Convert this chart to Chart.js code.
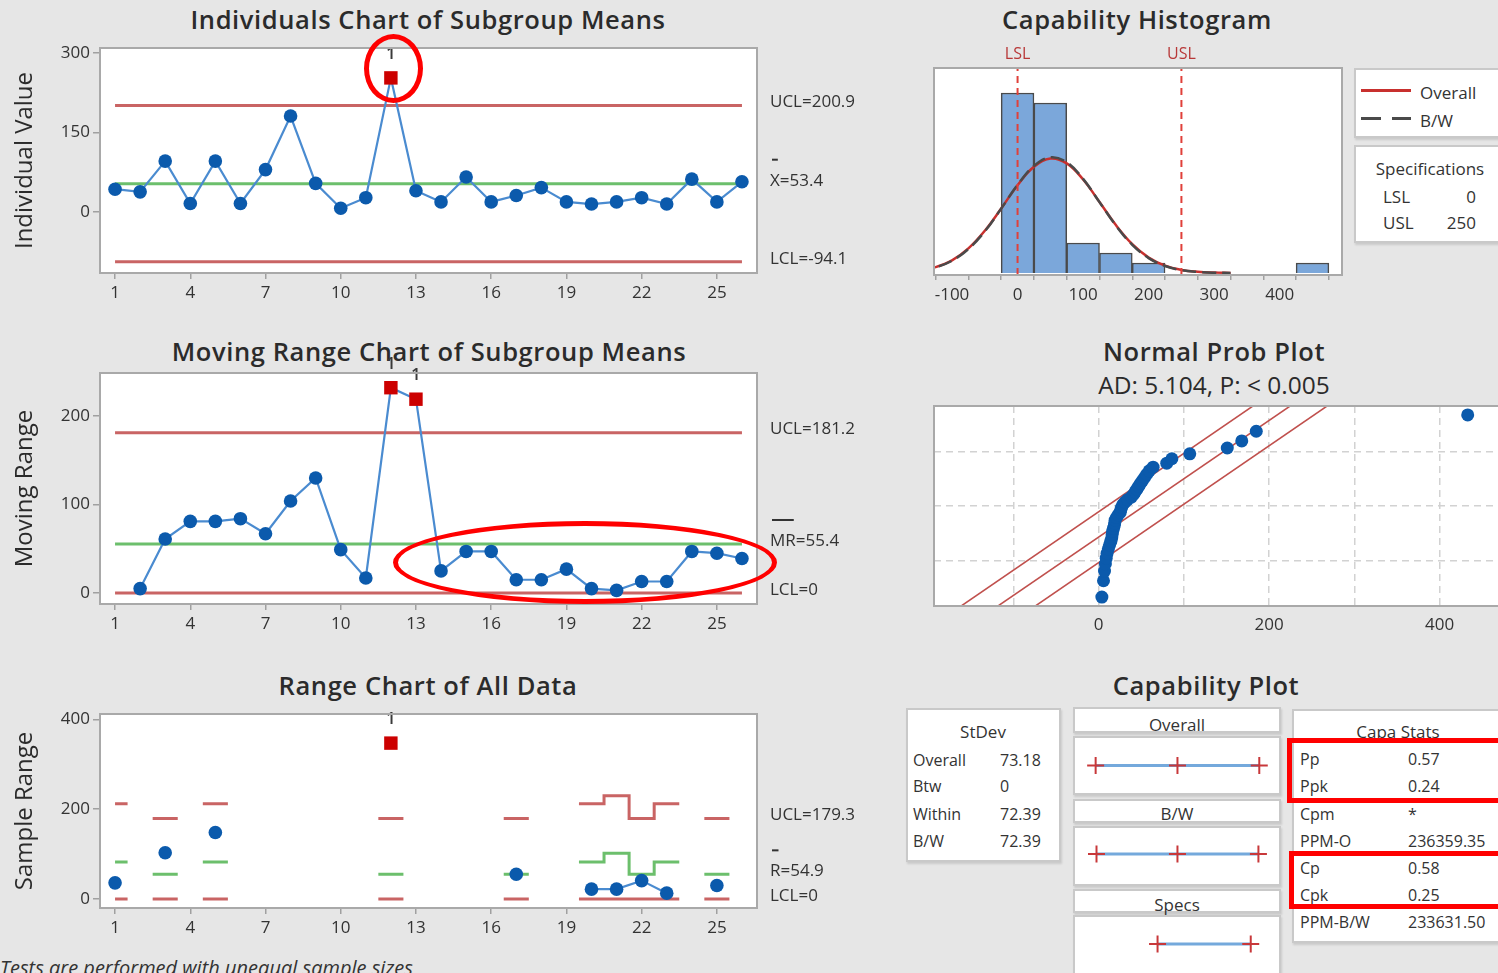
<!DOCTYPE html>
<html>
<head>
<meta charset="utf-8">
<title>Capability Sixpack</title>
<script src="https://cdn.jsdelivr.net/npm/chart.js@4.4.1/dist/chart.umd.min.js"></script>
<style>
  html, body { margin:0; padding:0; }
  body { width:1498px; height:973px; overflow:hidden; position:relative; background:#e6e6e6; font-family:"Open Sans", sans-serif; color:#2e2e2e; }
  canvas { position:absolute; }
  .t { position:absolute; font-size:16px; white-space:nowrap; line-height:1; transform:translateY(-50%); color:#333; }
  .tc { transform:translate(-50%,-50%); }
  .tr { transform:translate(-100%,-50%); }
  .box { position:absolute; background:#fff; border:2px solid #c9c9c9; box-sizing:border-box; box-shadow:1px 2px 2px rgba(0,0,0,0.12); }
  .ann { position:absolute; border:5px solid #ff0000; box-sizing:border-box; z-index:20; }
  .foot { position:absolute; left:0; top:958px; font-size:20px; font-style:italic; white-space:nowrap; color:#333; line-height:20px; }
</style>
</head>
<body>
<script>
// ================= DATA =================
const subgroups = [1,2,3,4,5,6,7,8,9,10,11,12,13,14,15,16,17,18,19,20,21,22,23,24,25,26];
const xTickValues = [1,4,7,10,13,16,19,22,25];

// Individuals chart of subgroup means
const individualValues = [43,38,96,16,96,16,80,181,54,7,27,253,40,19,66,19,31,46,19,15,19,27,15,62,19,57];
const individualFlags = [12];
const iUCL = 200.9, iCL = 53.4, iLCL = -94.1;
const iYTicks = [0,150,300];

// Moving range chart
const movingRanges = [null,5,61,81,81,84,67,104,130,49,17,232,219,25,47,47,15,15,27,5,3,13,13,47,45,39];
const mrFlags = [12,13];
const mrUCL = 181.2, mrCL = 55.4, mrLCL = 0;
const mrYTicks = [0,100,200];

// Range chart of all data (only subgroups with more than one observation)
const sampleRanges = [36,null,103,null,148,null,null,null,null,null,null,347,null,null,null,null,55,null,null,22,22,41,13,null,30,null];
const rangeFlags = [12];
const rangeUCL = [212,null,179.3,null,212,null,null,null,null,null,null,179.3,null,null,null,null,179.3,null,null,212,230,179.3,212,null,179.3,null];
const rangeCL  = [82.5,null,54.9,null,82.5,null,null,null,null,null,null,54.9,null,null,null,null,54.9,null,null,82.5,102,54.9,82.5,null,54.9,null];
const rangeLCL = [0,null,0,null,0,null,null,null,null,null,null,0,null,null,null,null,0,null,null,0,0,0,0,null,0,null];
const rUCLLabel = 179.3, rCLLabel = 54.9, rLCLLabel = 0;
const rYTicks = [0,200,400];

// Capability histogram
const binCenters = [0,50,100,150,200,250,300,350,400,450];
const binCounts  = [18,17,3,2,1,0,0,0,0,1];
const curveX = [-150,-125,-100,-75,-50,-25,0,25,50,75,100,125,150,175,200,225,250,275,300,325];
const overallCurve = [0.24,0.59,1.27,2.46,4.22,6.45,8.78,10.62,11.44,10.96,9.35,7.10,4.79,2.88,1.54,0.73,0.31,0.12,0.04,0.01];
const bwCurve      = [0.22,0.56,1.23,2.40,4.16,6.44,8.81,10.71,11.56,11.07,9.41,7.09,4.75,2.82,1.49,0.70,0.29,0.11,0.03,0.01];
const LSL = 0, USL = 250;
const histXTicks = [-100,-50,0,50,100,150,200,250,300,350,400,450];

// Normal probability plot
const sortedObs = [3.9,5.8,7,8,9,10,11.5,13,14.5,15.5,16,16.5,17.5,18.5,19,19.5,21,23,25.5,26,27,28.5,31,34,38.5,41,43,45,47,49,51.5,54,56.5,59.5,64,80,86,107,151,168,185,433];
const plotPositionZ = [-2.132,-1.750,-1.524,-1.358,-1.222,-1.106,-1.002,-0.909,-0.823,-0.743,-0.667,-0.595,-0.525,-0.459,-0.394,-0.331,-0.269,-0.208,-0.148,-0.089,-0.030,
                        0.030,0.089,0.148,0.208,0.269,0.331,0.394,0.459,0.525,0.595,0.667,0.743,0.823,0.909,1.002,1.106,1.222,1.358,1.524,1.750,2.132];
const bandZ = [-2.6, 2.6];
const fitLineX = [-136.9, 243.7];
const bandLeftX = [-180, 200];
const bandRightX = [-93, 287];
const probXGrid = [-100,0,100,200,300,400];
const probXLabels = [0,200,400];
const probYGrid = [-1.2816, 0, 1.2816];

// Capability plot
const overallInterval = [-166.1, 53.4, 272.9];
const bwInterval = [-163.8, 53.4, 270.6];
const specInterval = [0, 250];
const stdevRows = [['Overall','73.18'],['Btw','0'],['Within','72.39'],['B/W','72.39']];
const capaRows = [['Pp','0.57'],['Ppk','0.24'],['Cpm','*'],['PPM-O','236359.35'],['Cp','0.58'],['Cpk','0.25'],['PPM-B/W','233631.50']];

// ================= STYLE =================
const BLUE_PT = '#0b5aac', BLUE_LINE = '#4a8bd0', RED_PT = '#cc0000';
const RED_LIM = '#c96464', GREEN_CL = '#6cbf6c', TXT = '#333';
Chart.defaults.font.family = '"Open Sans", sans-serif';
Chart.defaults.color = TXT;

// ================= HELPERS =================
function makeCanvas(l, t, w, h) {
  const c = document.createElement('canvas');
  c.width = w; c.height = h;
  Object.assign(c.style, {left: l + 'px', top: t + 'px', width: w + 'px', height: h + 'px'});
  document.body.appendChild(c);
  return c;
}
function txt(s, x, y, o = {}) {
  const d = document.createElement('div');
  d.textContent = s;
  d.className = 't' + (o.align === 'center' ? ' tc' : o.align === 'right' ? ' tr' : '');
  d.style.left = x + 'px'; d.style.top = y + 'px';
  if (o.size) d.style.fontSize = o.size + 'px';
  if (o.weight) d.style.fontWeight = o.weight;
  if (o.color) d.style.color = o.color;
  if (o.spacing) d.style.letterSpacing = o.spacing + 'px';
  document.body.appendChild(d);
  return d;
}
function title(s, x, y, weight) {
  return txt(s, x, y, {align: 'center', size: 25.5, weight: weight || 600, color: '#2b2b2b', spacing: 0.6});
}
function box(l, t, w, h, cls = 'box') {
  const d = document.createElement('div');
  d.className = cls;
  Object.assign(d.style, {left: l + 'px', top: t + 'px', width: w + 'px', height: h + 'px'});
  document.body.appendChild(d);
  return d;
}
function ticksFrom(arr) { return s => { s.ticks = arr.map(v => ({value: v})); }; }

const framePlugin = {
  id: 'frame',
  beforeDraw(chart) {
    const {ctx, chartArea: a} = chart;
    ctx.save(); ctx.fillStyle = '#fff';
    ctx.fillRect(a.left, a.top, a.right - a.left, a.bottom - a.top); ctx.restore();
  },
  afterDraw(chart) {
    const {ctx, chartArea: a} = chart;
    ctx.save(); ctx.strokeStyle = '#a9a9a9'; ctx.lineWidth = 2;
    ctx.strokeRect(a.left, a.top, a.right - a.left, a.bottom - a.top); ctx.restore();
  }
};
const sideLabelPlugin = {
  id: 'sideLabels',
  afterDraw(chart, args, opts) {
    const items = opts.items || [];
    const ys = chart.scales.y, a = chart.chartArea, ctx = chart.ctx;
    ctx.save(); ctx.font = '17px "Open Sans"'; ctx.fillStyle = TXT;
    ctx.textBaseline = 'middle'; ctx.textAlign = 'left';
    items.forEach(it => {
      const y = ys.getPixelForValue(it.value) - 3;
      const x = a.right + 13;
      ctx.fillText(it.text, x, y);
      if (it.bar) {
        const w = ctx.measureText(it.text.slice(0, it.bar)).width;
        ctx.fillRect(x + 2, y - 22, w - 4, 2);
      }
    });
    ctx.restore();
  }
};
const flagPlugin = {
  id: 'flags',
  afterDatasetsDraw(chart, args, opts) {
    const meta = chart.getDatasetMeta(0), ctx = chart.ctx;
    ctx.save(); ctx.font = '600 17px "Open Sans"'; ctx.fillStyle = '#3a3a3a';
    ctx.textAlign = 'center'; ctx.textBaseline = 'middle';
    (opts.subgroups || []).forEach(sg => {
      const el = meta.data[subgroups.indexOf(sg)];
      if (el) ctx.fillText('1', el.x, el.y - 24);
    });
    ctx.restore();
  }
};
const specLabelPlugin = {
  id: 'specLabels',
  afterDraw(chart) {
    const xs = chart.scales.x, a = chart.chartArea, ctx = chart.ctx;
    ctx.save(); ctx.font = '16px "Open Sans"'; ctx.fillStyle = '#b83838';
    ctx.textAlign = 'center'; ctx.textBaseline = 'middle';
    ctx.fillText('LSL', xs.getPixelForValue(LSL), a.top - 14);
    ctx.fillText('USL', xs.getPixelForValue(USL), a.top - 14);
    ctx.restore();
  }
};

function stepData(vals) {
  const pts = [];
  vals.forEach((v, i) => {
    if (v == null) return;
    const x = subgroups[i];
    const prevHas = i > 0 && vals[i - 1] != null;
    pts.push({x: prevHas ? x - 0.5 : Math.max(x - 0.5, subgroups[0]), y: v});
    pts.push({x: x + 0.5, y: v});
    if (i === vals.length - 1 || vals[i + 1] == null) pts.push({x: x + 0.5, y: null});
  });
  return pts;
}
function flatLine(v) { return [{x: subgroups[0], y: v}, {x: subgroups[subgroups.length - 1], y: v}]; }

function controlChart(o) {
  const c = makeCanvas(0, o.canvasTop, 900, o.canvasH);
  const datasets = [{
    data: subgroups.map((x, i) => ({x, y: o.values[i]})),
    borderColor: BLUE_LINE, borderWidth: 2.2, tension: 0, spanGaps: false,
    pointStyle: subgroups.map(x => o.flags.includes(x) ? 'rect' : 'circle'),
    pointRadius: subgroups.map(x => o.flags.includes(x) ? 9.5 : 6.8),
    pointBackgroundColor: subgroups.map(x => o.flags.includes(x) ? RED_PT : BLUE_PT),
    pointBorderWidth: 0, order: 0
  }];
  o.limits.forEach(l => datasets.push({data: l.data, borderColor: l.color, borderWidth: 3, pointRadius: 0, tension: 0, spanGaps: false, order: 5}));
  new Chart(c, {
    type: 'line',
    data: {datasets},
    options: {
      responsive: false, animation: false, devicePixelRatio: 1,
      layout: {padding: {left: 0, right: 143, top: o.frameTop - o.canvasTop, bottom: 0}},
      plugins: {legend: {display: false}, tooltip: {enabled: false}, sideLabels: {items: o.labels}, flags: {subgroups: o.flags}},
      scales: {
        x: {type: 'linear', min: 0.4, max: 26.6,
            afterBuildTicks: ticksFrom(xTickValues),
            afterFit: s => { s.height = o.canvasTop + o.canvasH - o.frameBottom; },
            grid: {drawOnChartArea: false, drawTicks: true, tickLength: 6, color: '#a0a0a0', lineWidth: 1.5},
            border: {display: false},
            ticks: {font: {size: 17}, color: TXT, padding: 4, maxRotation: 0, autoSkip: false}},
        y: {type: 'linear', min: o.yMin, max: o.yMax,
            afterBuildTicks: ticksFrom(o.yTicks),
            afterFit: s => { s.width = 100; },
            title: {display: true, text: o.yTitle, font: {size: 24, weight: '500'}, color: '#2b2b2b', padding: {top: 11, bottom: 0}},
            grid: {drawOnChartArea: false, drawTicks: true, tickLength: 7, color: '#a0a0a0', lineWidth: 1.5},
            border: {display: false},
            ticks: {font: {size: 17}, color: TXT, padding: 3, autoSkip: false}}
      }
    },
    plugins: [framePlugin, sideLabelPlugin, flagPlugin]
  });
}

// ================= TITLES =================
title('Individuals Chart of Subgroup Means', 428, 20);
title('Moving Range Chart of Subgroup Means', 429, 352);
title('Range Chart of All Data', 428, 686);
title('Capability Histogram', 1137, 20);
title('Normal Prob Plot', 1214, 352);
txt('AD: 5.104, P: < 0.005', 1214, 385, {align: 'center', size: 24.5, weight: 500, color: '#2b2b2b'});
title('Capability Plot', 1206, 686);

// ================= CONTROL CHARTS =================
controlChart({
  canvasTop: 30, canvasH: 290, frameTop: 48, frameBottom: 273,
  yMin: -115.1, yMax: 309.4, yTicks: iYTicks, yTitle: 'Individual Value',
  values: individualValues, flags: individualFlags,
  limits: [{data: flatLine(iUCL), color: RED_LIM}, {data: flatLine(iCL), color: GREEN_CL}, {data: flatLine(iLCL), color: RED_LIM}],
  labels: [{text: 'UCL=' + iUCL, value: iUCL}, {text: 'X=' + iCL, value: iCL, bar: 1}, {text: 'LCL=' + iLCL, value: iLCL}]
});
controlChart({
  canvasTop: 355, canvasH: 295, frameTop: 373, frameBottom: 604,
  yMin: -12.4, yMax: 248.6, yTicks: mrYTicks, yTitle: 'Moving Range',
  values: movingRanges, flags: mrFlags,
  limits: [{data: flatLine(mrUCL), color: RED_LIM}, {data: flatLine(mrCL), color: GREEN_CL}, {data: flatLine(mrLCL), color: RED_LIM}],
  labels: [{text: 'UCL=' + mrUCL, value: mrUCL}, {text: 'MR=' + mrCL, value: mrCL, bar: 2}, {text: 'LCL=' + mrLCL, value: mrLCL}]
});
controlChart({
  canvasTop: 700, canvasH: 252, frameTop: 714, frameBottom: 908,
  yMin: -20, yMax: 411.8, yTicks: rYTicks, yTitle: 'Sample Range',
  values: sampleRanges, flags: rangeFlags,
  limits: [{data: stepData(rangeUCL), color: RED_LIM}, {data: stepData(rangeCL), color: GREEN_CL}, {data: stepData(rangeLCL), color: RED_LIM}],
  labels: [{text: 'UCL=' + rUCLLabel, value: rUCLLabel}, {text: 'R=' + rCLLabel, value: rCLLabel, bar: 1}, {text: 'LCL=' + rLCLLabel, value: rLCLLabel}]
});

// ================= HISTOGRAM =================
(function () {
  const c = makeCanvas(900, 30, 450, 290);
  new Chart(c, {
    type: 'bar',
    data: {datasets: [
      {type: 'line', data: [{x: LSL, y: -0.2}, {x: LSL, y: 20.5}], borderColor: '#e0403a', borderWidth: 2, borderDash: [7, 5], pointRadius: 0, order: 1},
      {type: 'line', data: [{x: USL, y: -0.2}, {x: USL, y: 20.5}], borderColor: '#e0403a', borderWidth: 2, borderDash: [7, 5], pointRadius: 0, order: 1},
      {type: 'line', data: curveX.map((x, i) => ({x, y: bwCurve[i]})), borderColor: '#4a4a4a', borderWidth: 2.5, borderDash: [14, 6], pointRadius: 0, tension: 0.4, order: 2},
      {type: 'line', data: curveX.map((x, i) => ({x, y: overallCurve[i]})), borderColor: '#c8302e', borderWidth: 2.5, pointRadius: 0, tension: 0.4, order: 3},
      {type: 'bar', data: binCenters.map((x, i) => ({x, y: binCounts[i]})), backgroundColor: '#7ba7da', borderColor: '#4a4a4a', borderWidth: 1.5, barPercentage: 1, categoryPercentage: 1, order: 5}
    ]},
    options: {
      responsive: false, animation: false, devicePixelRatio: 1,
      layout: {padding: {left: 34, right: 8, top: 38, bottom: 0}},
      plugins: {legend: {display: false}, tooltip: {enabled: false}},
      scales: {
        x: {type: 'linear', min: -127.5, max: 495, offset: false,
            afterBuildTicks: ticksFrom(histXTicks),
            afterFit: s => { s.height = 45; },
            grid: {drawOnChartArea: false, drawTicks: true, tickLength: 5, color: '#a0a0a0', lineWidth: 1.5},
            border: {display: false},
            ticks: {font: {size: 17}, color: TXT, padding: 5, maxRotation: 0, autoSkip: false,
                    callback: v => (v % 100 === 0 ? String(v) : '')}},
        y: {type: 'linear', min: -0.2, max: 20.5, display: false}
      }
    },
    plugins: [framePlugin, specLabelPlugin]
  });
})();

// legend & specifications boxes
box(1354, 68, 160, 70);
const redSample = box(1361, 89, 50, 3, ''); redSample.style.position = 'absolute'; redSample.style.background = '#c8302e';
const d1 = box(1361, 117, 20, 3, ''); d1.style.position = 'absolute'; d1.style.background = '#4a4a4a';
const d2 = box(1392, 117, 19, 3, ''); d2.style.position = 'absolute'; d2.style.background = '#4a4a4a';
txt('Overall', 1420, 92, {size: 17});
txt('B/W', 1420, 120, {size: 17});
box(1354, 145, 160, 98);
txt('Specifications', 1430, 168, {align: 'center', size: 17});
txt('LSL', 1383, 196, {size: 17});
txt(String(LSL), 1476, 196, {align: 'right', size: 17});
txt('USL', 1383, 222, {size: 17});
txt(String(USL), 1476, 222, {align: 'right', size: 17});

// ================= NORMAL PROBABILITY PLOT =================
(function () {
  const c = makeCanvas(900, 395, 610, 255);
  const bandStyle = {type: 'line', showLine: true, borderColor: '#c0504d', borderWidth: 1.6, pointRadius: 0, order: 3};
  new Chart(c, {
    type: 'scatter',
    data: {datasets: [
      {data: sortedObs.map((x, i) => ({x, y: plotPositionZ[i]})), pointRadius: 6.5, pointBackgroundColor: BLUE_PT, pointBorderWidth: 0, order: 0},
      Object.assign({data: fitLineX.map((x, i) => ({x, y: bandZ[i]}))}, bandStyle),
      Object.assign({data: bandLeftX.map((x, i) => ({x, y: bandZ[i]}))}, bandStyle),
      Object.assign({data: bandRightX.map((x, i) => ({x, y: bandZ[i]}))}, bandStyle)
    ]},
    options: {
      responsive: false, animation: false, devicePixelRatio: 1,
      layout: {padding: {left: 34, right: 5, top: 11, bottom: 0}},
      plugins: {legend: {display: false}, tooltip: {enabled: false}},
      scales: {
        x: {type: 'linear', min: -193, max: 475,
            afterBuildTicks: ticksFrom(probXGrid),
            afterFit: s => { s.height = 44; },
            grid: {drawOnChartArea: true, drawTicks: false, color: '#d2d2d2', lineWidth: 1.5},
            border: {display: false, dash: [7, 5]},
            ticks: {font: {size: 17}, color: TXT, padding: 9, maxRotation: 0, autoSkip: false,
                    callback: v => (probXLabels.includes(v) ? String(v) : '')}},
        y: {type: 'linear', min: -2.342, max: 2.342,
            afterBuildTicks: ticksFrom(probYGrid),
            afterFit: s => { s.width = 0; },
            grid: {drawOnChartArea: true, drawTicks: false, color: '#d2d2d2', lineWidth: 1.5},
            border: {display: false, dash: [7, 5]},
            ticks: {display: false}}
      }
    },
    plugins: [framePlugin]
  });
})();

// ================= CAPABILITY PLOT =================
box(906, 708, 155, 154);
txt('StDev', 983, 731, {align: 'center', size: 17});
[760, 786, 814, 841].forEach((y, i) => {
  txt(stdevRows[i][0], 913, y, {size: 16});
  txt(stdevRows[i][1], 1000, y, {size: 16});
});

box(1073, 707, 208, 26);  txt('Overall', 1177, 724, {align: 'center', size: 17});
box(1073, 736, 208, 59);
box(1073, 799, 208, 24);  txt('B/W', 1177, 813, {align: 'center', size: 17});
box(1073, 826, 208, 60);
box(1073, 889, 208, 24);  txt('Specs', 1177, 904, {align: 'center', size: 17});
box(1073, 915, 208, 70);

function intervalChart(top, h, values) {
  const c = makeCanvas(1073.5, top, 207, h);
  new Chart(c, {
    type: 'line',
    data: {datasets: [{
      data: values.map(x => ({x, y: 1})),
      borderColor: '#74a9dc', borderWidth: 3, tension: 0,
      pointStyle: 'cross', pointRadius: 8.5, pointBorderColor: '#c8383a', pointBorderWidth: 2
    }]},
    options: {
      responsive: false, animation: false, devicePixelRatio: 1,
      layout: {padding: 0},
      plugins: {legend: {display: false}, tooltip: {enabled: false}},
      scales: {x: {type: 'linear', min: -196, max: 303, display: false}, y: {min: 0, max: 2, display: false}}
    }
  });
}
intervalChart(736, 59, overallInterval);
intervalChart(824, 60, bwInterval);
intervalChart(914, 60, specInterval);

box(1292, 709, 230, 234);
txt('Capa Stats', 1398, 731, {align: 'center', size: 17});
[759, 786, 814, 841, 868, 895, 922].forEach((y, i) => {
  txt(capaRows[i][0], 1300, y, {size: 16});
  txt(capaRows[i][1], 1408, y, {size: 16});
});

// footnote
const f = document.createElement('div');
f.className = 'foot';
f.textContent = 'Tests are performed with unequal sample sizes';
document.body.appendChild(f);

// ================= RED ANNOTATIONS =================
const a1 = box(364, 34, 59, 69, 'ann'); a1.style.borderRadius = '50%';
const a2 = box(393, 521, 384, 83, 'ann'); a2.style.borderRadius = '50%';
box(1287, 738, 240, 65, 'ann');
box(1289, 851, 240, 58, 'ann');
</script>
</body>
</html>
